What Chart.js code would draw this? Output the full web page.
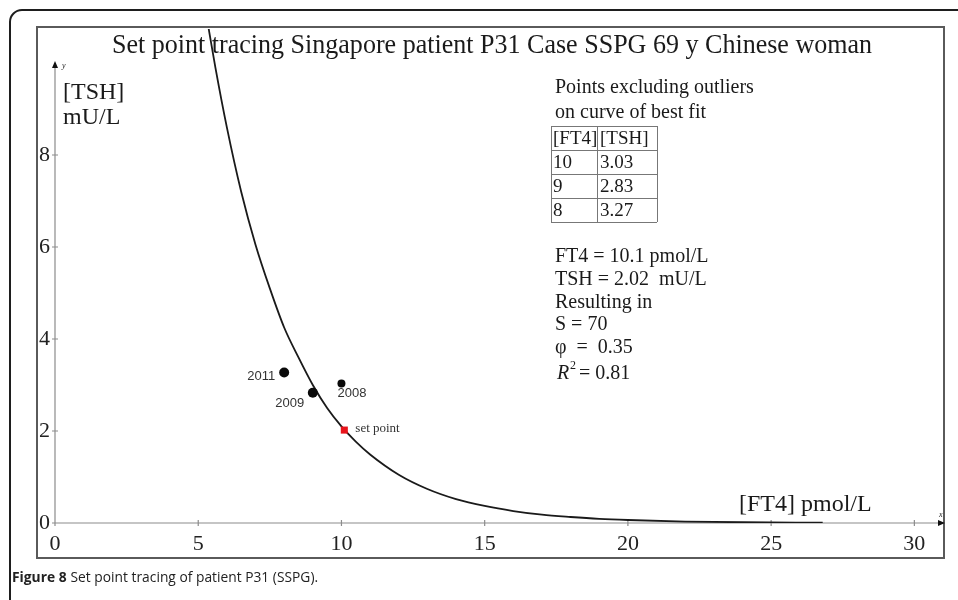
<!DOCTYPE html>
<html lang="en">
    <head>
        <meta charset="UTF-8" />
        <title>Set point tracing P31</title>
        <style>
            html,
            body {
                margin: 0;
                padding: 0;
                background: #fff;
            }
            #wrap {
                width: 958px;
                height: 600px;
            }
        </style>
    </head>
    <body>
        <div id="wrap">
            <canvas id="chart" width="958" height="600"></canvas>
        </div>

        <script src="https://cdn.jsdelivr.net/npm/chart.js@4"></script>
        <script>
            // axis ticks
            const xTicks = [0, 5, 10, 15, 20, 25, 30];
            const yTicks = [0, 2, 4, 6, 8];

            // curve of best fit
            const curveFT4 = [5.35, 5.6, 6, 6.5, 7, 7.5, 8, 8.5, 9, 9.5, 10, 10.5, 11, 12, 13, 14, 15, 16, 17, 18, 19, 20, 22, 24, 26.8];
            const curveTSH = [10.8, 9.9, 8.6, 7.2, 6.05, 5.1, 4.25, 3.6, 3.0, 2.5, 2.1, 1.77, 1.49, 1.05, 0.74, 0.52, 0.37, 0.26, 0.18, 0.13, 0.09, 0.065, 0.032, 0.016, 0.006];

            // measured points
            const yearLabels = ["2008", "2009", "2011"];
            const yearFT4 = [10, 9, 8];
            const yearTSH = [3.03, 2.83, 3.27];

            // set point
            const setPointFT4 = [10.1];
            const setPointTSH = [2.02];

            // table + summary text
            const tableHead = ["[FT4]", "[TSH]"];
            const tableFT4 = ["10", "9", "8"];
            const tableTSH = ["3.03", "2.83", "3.27"];
            const summaryLines = ["FT4 = 10.1 pmol/L", "TSH = 2.02  mU/L", "Resulting in", "S = 70", "\u03c6  =  0.35"];

            const SERIF = "'Liberation Serif', 'Times New Roman', serif";
            const CAPTION = "'Open Sans', 'Noto Sans', sans-serif";

            // text helper, optional horizontal squeeze
            function txt(ctx, s, x, y, font, align, color, squeeze) {
                ctx.save();
                ctx.font = font;
                ctx.fillStyle = color || "#1a1a1a";
                ctx.textAlign = align || "left";
                ctx.textBaseline = "middle";
                ctx.translate(x, y);
                ctx.scale(squeeze || 1, 1);
                ctx.fillText(s, 0, 0);
                ctx.restore();
            }

            // frames behind everything
            const framePlugin = {
                id: "frames",
                beforeDraw(chart) {
                    const ctx = chart.ctx;
                    ctx.save();
                    ctx.fillStyle = "#fff";
                    ctx.fillRect(0, 0, 958, 600);
                    // page border (rounded corner top-left)
                    ctx.strokeStyle = "#1e1e1e";
                    ctx.lineWidth = 2;
                    ctx.beginPath();
                    ctx.moveTo(10, 600);
                    ctx.lineTo(10, 22);
                    ctx.arcTo(10, 10, 22, 10, 12);
                    ctx.lineTo(958, 10);
                    ctx.stroke();
                    // figure border
                    ctx.strokeStyle = "#5a5a5a";
                    ctx.lineWidth = 2;
                    ctx.strokeRect(37, 27, 907, 531);
                    ctx.restore();
                },
            };

            // axis lines with arrows and cross ticks
            const axesPlugin = {
                id: "axes",
                beforeDatasetsDraw(chart) {
                    const ctx = chart.ctx;
                    const xs = chart.scales.x;
                    const ys = chart.scales.y;
                    const x0 = xs.getPixelForValue(0);
                    const y0 = ys.getPixelForValue(0);
                    const xEnd = xs.getPixelForValue(31);
                    const yEnd = ys.getPixelForValue(10);
                    ctx.save();
                    ctx.strokeStyle = "#8c8c8c";
                    ctx.lineWidth = 1.2;
                    ctx.beginPath();
                    ctx.moveTo(x0, y0);
                    ctx.lineTo(xEnd, y0);
                    ctx.moveTo(x0, y0);
                    ctx.lineTo(x0, yEnd);
                    xTicks.forEach((v) => {
                        const p = xs.getPixelForValue(v);
                        ctx.moveTo(p, y0 - 3);
                        ctx.lineTo(p, y0 + 3);
                    });
                    yTicks.forEach((v) => {
                        const p = ys.getPixelForValue(v);
                        ctx.moveTo(x0 - 3, p);
                        ctx.lineTo(x0 + 3, p);
                    });
                    ctx.stroke();
                    ctx.fillStyle = "#111";
                    ctx.beginPath();
                    ctx.moveTo(xEnd + 2, y0);
                    ctx.lineTo(xEnd - 5, y0 - 3);
                    ctx.lineTo(xEnd - 5, y0 + 3);
                    ctx.closePath();
                    ctx.moveTo(x0, yEnd - 2);
                    ctx.lineTo(x0 - 3, yEnd + 5);
                    ctx.lineTo(x0 + 3, yEnd + 5);
                    ctx.closePath();
                    ctx.fill();
                    txt(ctx, "y", x0 + 7, yEnd + 3, "italic 8px " + SERIF);
                    txt(ctx, "x", xEnd - 4, y0 - 8, "italic 8px " + SERIF);
                    ctx.restore();
                },
            };

            // all text annotations
            const textPlugin = {
                id: "texts",
                afterDraw(chart) {
                    const ctx = chart.ctx;
                    const xs = chart.scales.x;
                    const ys = chart.scales.y;

                    txt(ctx, "Set point tracing Singapore patient P31 Case SSPG 69 y Chinese woman", 492, 46, "28px " + SERIF, "center", "#1a1a1a", 0.93);
                    txt(ctx, "[TSH]", 63, 93, "24px " + SERIF);
                    txt(ctx, "mU/L", 63, 118, "24px " + SERIF);
                    txt(ctx, "[FT4] pmol/L", 739, 505, "24px " + SERIF);

                    // labels next to the measured points
                    const SANS = "13px 'Liberation Sans', Arial, sans-serif";
                    yearLabels.forEach((lab, i) => {
                        const px = xs.getPixelForValue(yearFT4[i]);
                        const py = ys.getPixelForValue(yearTSH[i]);
                        if (lab === "2011") txt(ctx, lab, px - 9, py + 4, SANS, "right", "#333");
                        else if (lab === "2009") txt(ctx, lab, px - 23, py + 11, SANS, "center", "#333");
                        else txt(ctx, lab, px - 4, py + 10, SANS, "left", "#333");
                    });
                    const sx = xs.getPixelForValue(setPointFT4[0]);
                    const sy = ys.getPixelForValue(setPointTSH[0]);
                    txt(ctx, "set point", sx + 11, sy - 2, "13px " + SERIF, "left", "#333");

                    // right hand block
                    const L = 555;
                    txt(ctx, "Points excluding outliers", L, 88, "20px " + SERIF);
                    txt(ctx, "on curve of best fit", L, 113, "20px " + SERIF);
                    const top = 126, rh = 24, left = 551, mid = 597, right = 657;
                    ctx.save();
                    ctx.strokeStyle = "#777";
                    ctx.lineWidth = 1;
                    ctx.beginPath();
                    for (let r = 0; r <= 4; r++) {
                        ctx.moveTo(left, top + r * rh + 0.5);
                        ctx.lineTo(right, top + r * rh + 0.5);
                    }
                    [left, mid, right].forEach((cx) => {
                        ctx.moveTo(cx + 0.5, top);
                        ctx.lineTo(cx + 0.5, top + 4 * rh);
                    });
                    ctx.stroke();
                    ctx.restore();
                    const TF = "19px " + SERIF;
                    txt(ctx, tableHead[0], left + 2, top + rh / 2 + 1, TF);
                    txt(ctx, tableHead[1], mid + 3, top + rh / 2 + 1, TF);
                    tableFT4.forEach((v, i) => {
                        txt(ctx, v, left + 2, top + (i + 1.5) * rh + 1, TF);
                        txt(ctx, tableTSH[i], mid + 3, top + (i + 1.5) * rh + 1, TF);
                    });

                    summaryLines.forEach((s, i) => {
                        txt(ctx, s, L, 257 + i * 22.7, "20px " + SERIF);
                    });
                    // R^2 line
                    txt(ctx, "R", L + 2, 374, "italic 20px " + SERIF);
                    txt(ctx, "2", L + 15, 366, "12px " + SERIF);
                    txt(ctx, "= 0.81", L + 24, 374, "20px " + SERIF);

                    // caption
                    ctx.save();
                    ctx.font = "bold 15px " + CAPTION;
                    const bw = ctx.measureText("Figure 8").width * 0.92;
                    ctx.restore();
                    txt(ctx, "Figure 8", 12, 578, "bold 15px " + CAPTION, "left", "#222", 0.92);
                    txt(ctx, "Set point tracing of patient P31 (SSPG).", 12 + bw + 4, 578, "15px " + CAPTION, "left", "#222", 0.92);
                },
            };

            const ctx = document.getElementById("chart").getContext("2d");
            const chart = new Chart(ctx, {
                type: "scatter",
                data: {
                    datasets: [
                        {
                            label: "set point",
                            data: setPointFT4.map((x, i) => ({ x: x, y: setPointTSH[i] })),
                            pointStyle: "rect",
                            pointRadius: 5,
                            backgroundColor: "#e8141b",
                            borderColor: "#e8141b",
                            borderWidth: 0,
                        },
                        {
                            label: "measured",
                            data: yearFT4.map((x, i) => ({ x: x, y: yearTSH[i] })),
                            pointRadius: [4, 5, 5],
                            backgroundColor: "#0a0a0a",
                            borderColor: "#0a0a0a",
                            borderWidth: 0,
                        },
                        {
                            label: "curve",
                            data: curveFT4.map((x, i) => ({ x: x, y: curveTSH[i] })),
                            showLine: true,
                            pointRadius: 0,
                            borderColor: "#1a1a1a",
                            borderWidth: 1.8,
                            cubicInterpolationMode: "monotone",
                            fill: false,
                            clip: { left: 0, top: 34, right: 0, bottom: 0 },
                        },
                    ],
                },
                options: {
                    responsive: false,
                    animation: false,
                    layout: {
                        padding: { left: 0, top: 63, right: 15, bottom: 0 },
                    },
                    plugins: {
                        legend: { display: false },
                        tooltip: { enabled: false },
                    },
                    scales: {
                        x: {
                            type: "linear",
                            min: 0,
                            max: 31,
                            border: { display: false },
                            grid: { display: false, drawTicks: false },
                            afterBuildTicks: (s) => {
                                s.ticks = xTicks.map((v) => ({ value: v }));
                            },
                            afterFit: (s) => {
                                s.height = 77;
                            },
                            ticks: {
                                font: { family: "Liberation Serif", size: 22 },
                                color: "#222",
                                padding: 8,
                                maxRotation: 0,
                                autoSkip: false,
                            },
                        },
                        y: {
                            type: "linear",
                            min: 0,
                            max: 10,
                            border: { display: false },
                            grid: { display: false, drawTicks: false },
                            afterBuildTicks: (s) => {
                                s.ticks = yTicks.map((v) => ({ value: v }));
                            },
                            afterFit: (s) => {
                                s.width = 55;
                            },
                            ticks: {
                                font: { family: "Liberation Serif", size: 22 },
                                color: "#222",
                                padding: 5,
                                autoSkip: false,
                            },
                        },
                    },
                },
                plugins: [framePlugin, axesPlugin, textPlugin],
            });
        </script>
    </body>
</html>
